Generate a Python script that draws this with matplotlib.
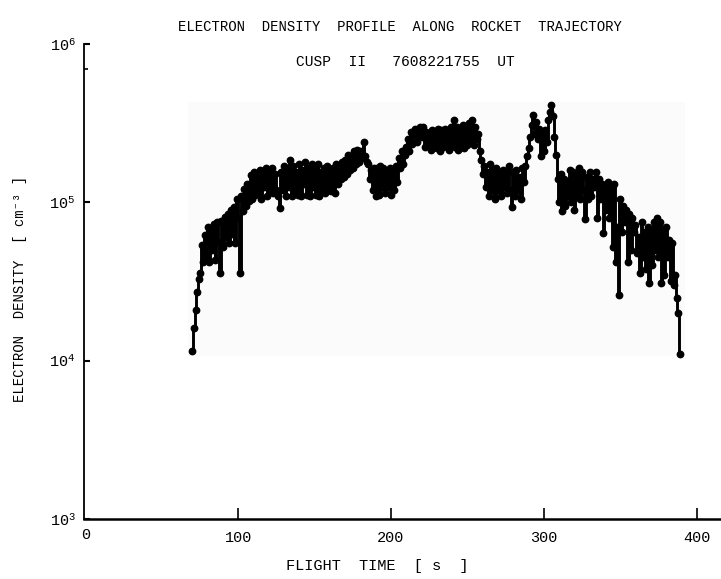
import numpy as np
import matplotlib
matplotlib.use("Agg")
import matplotlib.pyplot as plt
from matplotlib.patches import Rectangle

plt.rcParams['font.family'] = ['Liberation Mono', 'DejaVu Sans Mono']
plt.rcParams['mathtext.fontset'] = 'custom'
plt.rcParams['mathtext.rm'] = 'Liberation Mono'
plt.rcParams['mathtext.it'] = 'Liberation Mono'
plt.rcParams['mathtext.bf'] = 'Liberation Mono:bold'

# ---- data ----
title = "ELECTRON  DENSITY  PROFILE  ALONG  ROCKET  TRAJECTORY"
subtitle = "CUSP  II   7608221755  UT"
xlabel = "FLIGHT  TIME  [ s  ]"
ylabel = "ELECTRON  DENSITY  [ cm\u207b\u00b3 ]"

t_start = 70.0      # s, first sample
dt = 1.0            # s, sampling interval
# electron density in units of 1e4 cm^-3, one value per second from t = 70 s
ne_1e4 = [
    1.15, 1.6, 2.1, 2.7, 3.3, 3.6, 5.4, 4.2, 6.2, 4.6,        # 70
    7.0, 4.2, 6.6, 5.0, 7.3, 4.3, 7.5, 5.6, 3.6, 7.6,         # 80
    5.2, 8.1, 6.0, 8.4, 5.5, 9.0, 6.3, 9.4, 5.5, 10.5,        # 90
    8.0, 3.6, 11.0, 8.8, 12.2, 9.5, 13.0, 10.2, 14.8, 10.5,   # 100
    15.5, 11.2, 14.5, 12.0, 16.0, 10.5, 15.0, 12.5, 16.5, 11.0,  # 110
    15.5, 12.0, 16.5, 11.5, 15.0, 12.0, 11.0, 9.2, 15.5, 12.0,   # 120
    17.0, 11.0, 16.0, 12.5, 18.5, 11.0, 17.0, 12.0, 15.5, 11.2,  # 130
    17.5, 11.0, 16.0, 13.0, 18.0, 11.2, 16.5, 11.0, 17.5, 12.5,  # 140
    16.0, 11.2, 17.5, 11.0, 15.5, 12.0, 16.5, 11.5, 17.0, 12.0,  # 150
    15.5, 11.8, 16.5, 11.5, 17.5, 13.0, 17.0, 14.0, 18.0, 14.5,  # 160
    18.5, 15.0, 20.0, 16.0, 19.5, 16.5, 21.0, 17.5, 21.5, 18.0,  # 170
    21.0, 19.0, 24.0, 19.5, 18.0, 17.5, 14.0, 16.0, 12.0, 16.5,  # 180
    11.0, 16.5, 11.2, 17.0, 12.5, 16.5, 11.5, 15.5, 12.5, 16.5,  # 190
    11.2, 15.5, 12.0, 17.0, 13.5, 19.0, 16.5, 21.0, 17.5, 20.0,  # 200
    22.5, 25.0, 21.0, 28.0, 23.5, 27.0, 29.0, 24.0, 28.5, 30.0,  # 210
    26.0, 30.0, 22.5, 28.0, 23.0, 27.0, 21.5, 28.5, 22.5, 27.5,  # 220
    22.0, 29.0, 21.0, 28.5, 22.5, 29.0, 23.0, 27.5, 21.5, 30.0,  # 230
    24.0, 33.0, 22.5, 30.0, 21.5, 28.5, 23.0, 31.0, 22.0, 29.5,  # 240
    23.0, 31.5, 24.0, 33.0, 23.0, 30.0, 25.0, 27.0, 21.0, 18.5,  # 250
    15.0, 17.0, 12.5, 15.5, 11.0, 17.5, 12.0, 16.0, 10.5, 16.5,  # 260
    12.0, 15.5, 11.0, 16.0, 12.5, 15.0, 11.5, 17.0, 12.0, 9.3,   # 270
    15.5, 11.0, 16.0, 12.0, 14.5, 10.5, 16.5, 13.5, 17.0, 19.5,  # 280
    22.0, 26.0, 31.0, 35.5, 27.0, 32.0, 25.0, 29.0, 19.5, 27.5,  # 290
    21.0, 28.5, 24.0, 33.0, 37.0, 41.0, 35.0, 26.0, 20.0, 14.0,  # 300
    10.0, 15.0, 8.8, 14.0, 9.5, 13.5, 11.0, 16.0, 10.0, 15.5,    # 310
    9.0, 15.0, 11.0, 16.5, 10.5, 15.5, 12.0, 7.8, 14.5, 10.5,    # 320
    15.5, 11.0, 14.0, 12.5, 15.5, 8.0, 14.0, 10.5, 13.0, 6.4,    # 330
    12.5, 9.0, 13.5, 8.0, 12.5, 5.2, 13.0, 4.2, 7.0, 2.6,        # 340
    10.5, 6.5, 9.5, 7.5, 9.0, 4.2, 8.5, 5.0, 8.0, 6.5,           # 350
    7.2, 4.8, 6.0, 3.6, 7.5, 4.5, 6.5, 3.8, 7.0, 3.1,            # 360
    6.5, 4.0, 7.5, 5.0, 8.0, 4.5, 7.5, 3.1, 6.5, 3.5,            # 370
    7.0, 4.5, 5.8, 3.2, 5.5, 3.0, 3.5, 2.5, 2.0, 1.1,            # 380
]
xticks = [100, 200, 300, 400]
xticklabels = ['100', '200', '300', '400']
yticks = [1e3, 1e4, 1e5, 1e6]

ne = np.array(ne_1e4) * 1e4
t = t_start + dt * np.arange(len(ne))

# ---- figure ----
W, H = 721, 579
fig = plt.figure(figsize=(W / 100, H / 100), dpi=100)
fig.patches.append(Rectangle((188 / W, 1 - 356 / H), (685 - 188) / W, (356 - 102) / H,
                             transform=fig.transFigure, facecolor='#fbfbfb',
                             edgecolor='none', zorder=-5))
ax = fig.add_axes([84 / W, 1 - 519 / H, 1 - 84 / W, (519 - 44) / H])
ax.patch.set_alpha(0)
ax.set_zorder(2)

ax.plot(t, ne, color='black', lw=2.1, drawstyle='steps-mid',
        marker='o', ms=4.6, mfc='black', mec='black')

ax.set_yscale('log')
ax.set_ylim(1e3, 1e6)
ax.set_xlim(-1, 416)
ax.set_xticks(xticks)
ax.set_xticklabels(xticklabels)
ax.set_yticks(yticks)
ax.set_yticks([7e5], minor=True)
ax.yaxis.set_minor_formatter(plt.NullFormatter())
ax.set_yticklabels(['$10^{%d}$' % int(np.log10(v)) for v in yticks])
ax.text(0, -0.018, '0', transform=ax.get_xaxis_transform(), ha='center', va='top',
        fontsize=11)

for s in ['top', 'right']:
    ax.spines[s].set_visible(False)
ax.spines['left'].set_linewidth(1.3)
ax.spines['bottom'].set_linewidth(1.8)
ax.tick_params(axis='x', direction='in', length=8, width=1.2, labelsize=11, pad=9)
ax.tick_params(axis='y', which='major', direction='in', length=4, width=1.5,
               labelsize=11, pad=6)
ax.tick_params(axis='y', which='minor', direction='in', length=3, width=1.2)

fig.text(400 / W, 1 - 27 / H, title, ha='center', va='center', fontsize=10)
fig.text(405 / W, 1 - 62 / H, subtitle, ha='center', va='center', fontsize=10.5)
fig.text(377 / W, 1 - 566 / H, xlabel, ha='center', va='center', fontsize=11)
fig.text(20 / W, 1 - 289 / H, ylabel, ha='center', va='center', fontsize=10,
         rotation=90)

fig.savefig('out.png', dpi=100, facecolor='white')
